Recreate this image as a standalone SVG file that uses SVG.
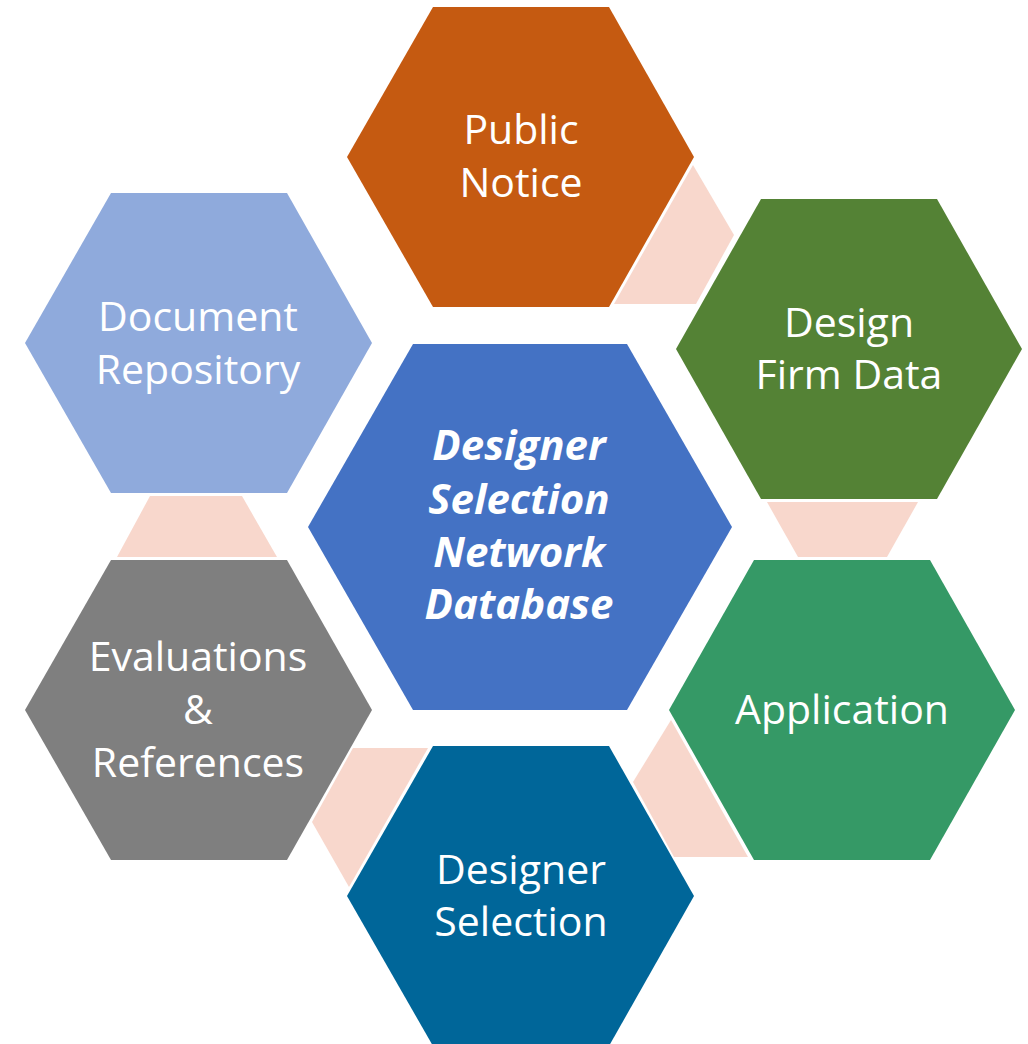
<svg xmlns="http://www.w3.org/2000/svg" width="1028" height="1044" viewBox="0 0 1028 1044">
<style>
.hex{stroke:none}
.lbl{font-family:"Open Sans","Noto Sans","Liberation Sans",sans-serif;font-size:41px;fill:#ffffff;text-anchor:middle}
.ctr{font-family:"Open Sans","Noto Sans","Liberation Sans",sans-serif;font-size:42px;fill:#ffffff;text-anchor:middle;font-weight:bold;font-style:italic}
.con{fill:#F8D7CC;stroke:none}
</style>
<rect width="1028" height="1044" fill="#ffffff"/>
<g id="connectors">
<polygon class="con" points="693,165 734,235 696,304 614,304"/>
<polygon class="con" points="767,502 918,502 887,557 798,557"/>
<polygon class="con" points="671,720 633,782 674,857 748,857"/>
<polygon class="con" points="353,748 428,748 349,887 312,822"/>
<polygon class="con" points="150,496 242,496 277,557 117,557"/>
</g>
<g id="public-notice">
<polygon class="hex" fill="#C55A11" points="433,7 609,7 694,157 609,307 433,307 347,157"/>
<text class="lbl" x="521" y="144">Public</text>
<text class="lbl" x="521" y="197">Notice</text>
</g>
<g id="design-firm-data">
<polygon class="hex" fill="#548235" points="761,199 937,199 1022,349 937,499 761,499 676,349"/>
<text class="lbl" x="849" y="337">Design</text>
<text class="lbl" x="849" y="389">Firm Data</text>
</g>
<g id="application">
<polygon class="hex" fill="#359966" points="754,560 930,560 1015,710 930,860 754,860 669,710"/>
<text class="lbl" x="842" y="724">Application</text>
</g>
<g id="designer-selection">
<polygon class="hex" fill="#006699" points="433,746 609,746 694,896 609,1046 433,1046 347,896"/>
<text class="lbl" x="521" y="884">Designer</text>
<text class="lbl" x="521" y="936">Selection</text>
</g>
<g id="evaluations-references">
<polygon class="hex" fill="#7F7F7F" points="111,560 287,560 372,710 287,860 111,860 25,710"/>
<text class="lbl" x="198" y="671">Evaluations</text>
<text class="lbl" x="198" y="724">&amp;</text>
<text class="lbl" x="198" y="777">References</text>
</g>
<g id="document-repository">
<polygon class="hex" fill="#8FAADC" points="111,193 287,193 372,343 287,493 111,493 25,343"/>
<text class="lbl" x="198" y="331">Document</text>
<text class="lbl" x="198" y="384">Repository</text>
</g>
<g id="center-database">
<polygon class="hex" fill="#4472C4" points="413,344 627,344 732,527 627,710 413,710 308,527"/>
<text class="ctr" x="519" y="460">Designer</text>
<text class="ctr" x="519" y="514">Selection</text>
<text class="ctr" x="519" y="567">Network</text>
<text class="ctr" x="519" y="619">Database</text>
</g>
</svg>
